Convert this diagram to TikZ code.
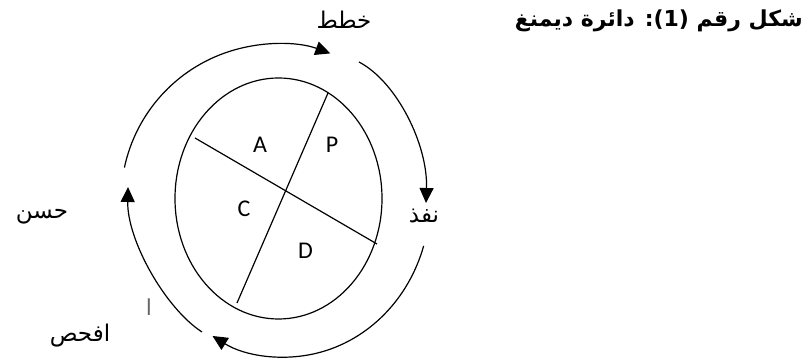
\documentclass[tikz,border=0pt]{standalone}
\usepackage{fontspec}
\setmainfont{Carlito}
\newfontfamily\arabicfont[Script=Arabic]{DejaVu Sans}
\TeXXeTstate=1
\usetikzlibrary{arrows.meta}
\begin{document}
\begin{tikzpicture}[x=1pt,y=1pt,
  cyc/.style={line width=1.2pt},
  flow/.style={line width=1.2pt,-{Triangle[length=15pt,width=14pt]}},
  letter/.style={inner sep=0pt,font=\fontsize{24}{26}\selectfont},
  ar/.style={inner sep=0pt,anchor=base,font=\arabicfont\fontsize{23}{26}\selectfont},
  ttl/.style={inner sep=0pt,anchor=base east,font=\arabicfont\bfseries\fontsize{22}{26}\selectfont}]
\useasboundingbox (0,0) rectangle (806,358);
% inner circle of the cycle
\draw[cyc] (278.5,159.5) ellipse [x radius=103.5, y radius=120.5];
\coordinate (l1a) at (195,220);
\coordinate (l1b) at (377,114);
\coordinate (l2a) at (328,265);
\coordinate (l2b) at (237,55);
\draw[cyc] (l1a) -- (l1b);
\draw[cyc] (l2a) -- (l2b);
\node[letter] (A) at (260,213.5) {A};
\node[letter] (P) at (332,213.5) {P};
\node[letter] (C) at (244,149) {C};
\node[letter] (D) at (305.5,107.5) {D};
% outer arrows
\draw[flow] (277,158) ++(168:156) arc[start angle=168, end angle=70, radius=156];
\coordinate (r0) at (359,296);
\coordinate (r1) at (426,155);
\draw[flow] (r0) .. controls (397,276) and (428,213) .. (r1);
\draw[flow] (285,158) ++(-17:145 and 157) arc[start angle=-17, end angle=-120, x radius=145, y radius=157];
\coordinate (k0) at (202,26);
\coordinate (k1) at (128,171);
\draw[flow] (k0) .. controls (165,50) and (127,118) .. (k1);
% labels
\node[ar] (plan) at (344,329) {\beginR خطط\endR};
\node[ar] (do) at (424,135) {\beginR نفذ\endR};
\node[ar] (act) at (42,139) {\beginR حسن\endR};
\node[ar] (check) at (80,16) {\beginR افحص\endR};
\node[ar,text=black!60,font=\arabicfont\fontsize{22}{24}\selectfont] (stray) at (149,42) {\beginR ا\endR};
\node[ttl] (title) at (803,331) {\beginR شكل رقم (1): دائرة ديمنغ\endR};
\end{tikzpicture}
\end{document}
